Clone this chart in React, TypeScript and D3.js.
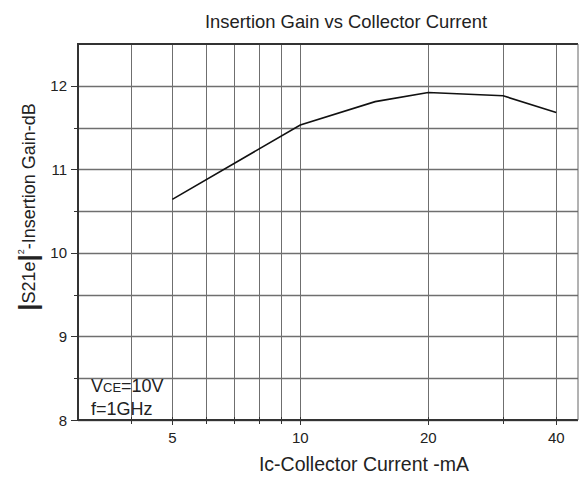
import React from "react";
import * as d3 from "d3";

const currents = [5, 10, 15, 20, 30, 40];
const gains = [10.64, 11.53, 11.81, 11.92, 11.88, 11.68];
const xTickLabels = [5, 10, 20, 40];
const xGridValues = [4, 5, 6, 7, 8, 9, 10, 20, 30, 40];
const yTickLabels = [8, 9, 10, 11, 12];
const yGridValues = [8, 8.5, 9, 9.5, 10, 10.5, 11, 11.5, 12];

const W = 579;
const H = 477;
const M = { left: 78, right: 578, top: 44, bottom: 420 };
const FONT = "Arial, 'Liberation Sans', Helvetica, sans-serif";

export default function App() {
  const x = d3.scaleLog().domain([3, 45]).range([M.left, M.right]);
  const y = d3.scaleLinear().domain([8, 12.5]).range([M.bottom, M.top]);
  const line = d3
    .line<number>()
    .x((_, i) => x(currents[i]))
    .y((d) => y(d));
  const pathD = line(gains) || "";
  const hGrid = yGridValues.map((v) => `M${M.left},${Math.round(y(v)) + 0.5}H${M.right}`).join("");
  const vGrid = xGridValues.map((v) => `M${Math.round(x(v)) + 0.5},${M.top}V${M.bottom}`).join("");

  return (
    <svg
      width={W}
      height={H}
      style={{ position: "absolute", left: 0, top: 0, background: "#fff" }}
      fontFamily={FONT}
    >
      {/* grid */}
      <path d={vGrid} stroke="#6f6f6f" strokeWidth={1} fill="none" />
      <path d={hGrid} stroke="#6f6f6f" strokeWidth={1.4} fill="none" />
      {/* frame */}
      <line x1={M.left} x2={M.right} y1={M.top} y2={M.top} stroke="#333" strokeWidth={2} />
      <line x1={M.left} x2={M.left} y1={M.top - 1} y2={M.bottom + 1} stroke="#333" strokeWidth={2} />
      <line x1={M.left} x2={M.right} y1={M.bottom} y2={M.bottom} stroke="#333" strokeWidth={2} />
      <line x1={M.right} x2={M.right} y1={M.top} y2={M.bottom} stroke="#666" strokeWidth={1} />
      {/* y ticks */}
      {yGridValues.map((v) => (
        <rect
          key={"ty" + v}
          x={M.left - (Number.isInteger(v) ? 7 : 4)}
          y={Math.round(y(v))}
          width={Number.isInteger(v) ? 7 : 4}
          height={1}
          fill="#333"
        />
      ))}
      {yTickLabels.map((v) => (
        <text key={"ly" + v} x={67} y={y(v) + 5.5} textAnchor="end" fontSize={15} fill="#222">
          {v}
        </text>
      ))}
      {/* x ticks */}
      {xGridValues.map((v) => (
        <rect
          key={"tx" + v}
          x={Math.round(x(v))}
          y={M.bottom - 3}
          width={1}
          height={xTickLabels.includes(v) ? 8 : 7}
          fill="#333"
        />
      ))}
      {xTickLabels.map((v) => (
        <text key={"lx" + v} x={x(v)} y={443} textAnchor="middle" fontSize={15} fill="#222">
          {v}
        </text>
      ))}
      {/* data line */}
      <path d={pathD} fill="none" stroke="#111" strokeWidth={1.6} />
      {/* title */}
      <text x={346} y={28} textAnchor="middle" fontSize={18.4} fill="#222">
        Insertion Gain vs Collector Current
      </text>
      {/* x label */}
      <text x={364} y={471} textAnchor="middle" fontSize={19.5} fill="#222">
        Ic-Collector Current -mA
      </text>
      {/* y label */}
      <text transform="translate(35,207) rotate(-90)" textAnchor="middle" fontSize={18} fill="#222">
        <tspan fontSize={26} fontWeight="bold" dy={2}>|</tspan>
        <tspan dy={-2}>S21e</tspan>
        <tspan fontSize={26} fontWeight="bold" dy={2}>|</tspan>
        <tspan fontSize={9} dy={-13}>2</tspan>
        <tspan dy={11}>-Insertion Gain-dB</tspan>
      </text>
      {/* annotation */}
      <text x={91} y={392} fontSize={18} fill="#222">
        V<tspan fontSize={13}>CE</tspan>=10V
      </text>
      <text x={91} y={415} fontSize={18} fill="#222">
        f=1GHz
      </text>
    </svg>
  );
}
